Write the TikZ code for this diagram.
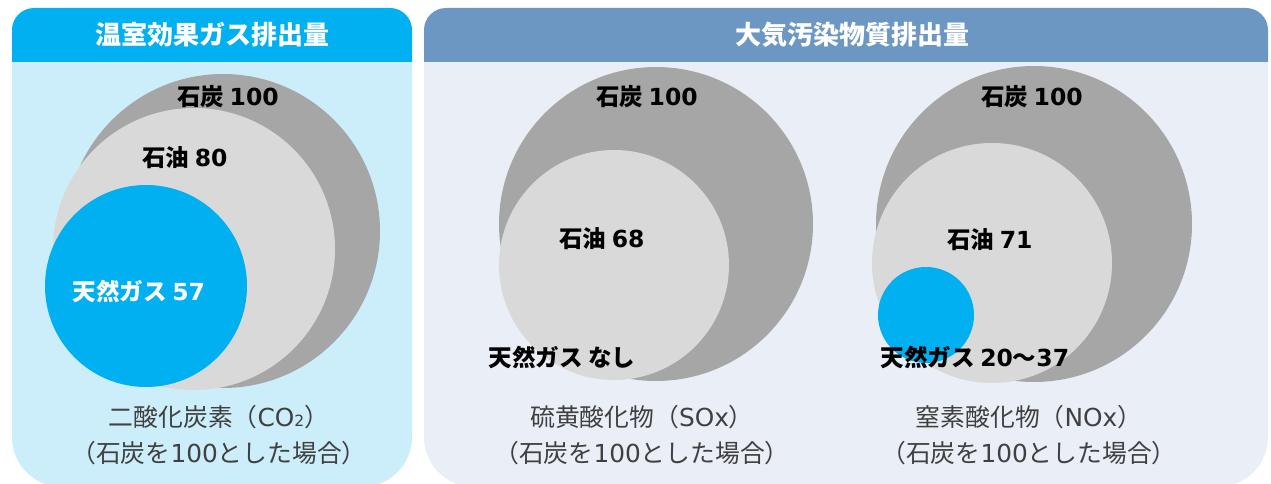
\documentclass[tikz,border=0pt]{standalone}
\usepackage{fontspec}
\setmainfont{Noto Sans CJK JP}
\newfontfamily\latfont{DejaVu Sans}
\usepackage{tikz}
\definecolor{ghgBlue}{HTML}{00B0F0}
\definecolor{ghgBody}{HTML}{CCEEFB}
\definecolor{airBlue}{HTML}{6C97C3}
\definecolor{airBody}{HTML}{EAEFF7}
\definecolor{coalGray}{HTML}{A6A6A6}
\definecolor{oilGray}{HTML}{D9D9D9}
\definecolor{capText}{HTML}{404040}
\def\hTop{8}
\def\hBot{62}
\def\pBot{487}
\def\rHead{22pt}
\def\rBody{50pt}
\def\lat#1{{\latfont #1}}
\def\smallnum#1{{\latfont\fontsize{15.5}{15.5}\selectfont #1}}
\tikzset{
  headtext/.style={font=\fontsize{26}{26}\selectfont\bfseries, text=white},
  fuellabel/.style={font=\fontsize{23.5}{23.5}\selectfont\bfseries, text=black},
  captext/.style={font=\fontsize{24.8}{36}\selectfont, text=capText, align=center},
}

\begin{document}
\begin{tikzpicture}[x=1pt,y=-1pt]
\useasboundingbox (0,0) rectangle (1271,484);

% Panels
\fill[ghgBody, rounded corners=\rBody] (12,\hTop) rectangle (412,\pBot);
\fill[airBody, rounded corners=\rBody] (424,\hTop) rectangle (1268,\pBot);
\begin{scope}
  \clip (0,0) rectangle (1271,\hBot);
  \fill[ghgBlue, rounded corners=\rHead] (12,\hTop) rectangle (412,100);
  \fill[airBlue, rounded corners=\rHead] (424,\hTop) rectangle (1268,100);
\end{scope}

% CO2
\fill[coalGray] (223,231) circle (157pt);
\fill[oilGray] (194,249) circle (141pt);
\fill[ghgBlue] (146,286) circle (101pt);

% SOx
\fill[coalGray] (656,224) circle (157pt);
\fill[oilGray] (614,265) circle (115pt);

% NOx
\fill[coalGray] (1034,224) circle (158pt);
\fill[oilGray] (992,263) circle (120pt);
\fill[ghgBlue] (926,315) circle (48pt);

% Titles
\node[headtext] (ghgTitle) at (212,35) {温室効果ガス排出量};
\node[headtext] (airTitle) at (852,35) {大気汚染物質排出量};

% Labels
\node[fuellabel] (coalCO) at (228,97) {石炭 \lat{100}};
\node[fuellabel] (oilCO) at (185,158) {石油 \lat{80}};
\node[fuellabel, text=white] (gasCO) at (139,291) {天然ガス \lat{57}};
\node[fuellabel] (coalSO) at (647,97) {石炭 \lat{100}};
\node[fuellabel] (oilSO) at (602,239) {石油 \lat{68}};
\node[fuellabel] (gasSO) at (562,357) {天然ガス なし};
\node[fuellabel] (coalNO) at (1032,97) {石炭 \lat{100}};
\node[fuellabel] (oilNO) at (990,240) {石油 \lat{71}};
\node[fuellabel] (gasNO) at (975,357) {天然ガス \lat{20}〜\lat{37}};

% Captions
\node[captext] (capCO) at (219,435) {二酸化炭素（\lat{CO}\smallnum{2}）\\（石炭を\lat{100}とした場合）};
\node[captext] (capSO) at (642,435) {硫黄酸化物（\lat{SOx}）\\（石炭を\lat{100}とした場合）};
\node[captext] (capNO) at (1029,435) {窒素酸化物（\lat{NOx}）\\（石炭を\lat{100}とした場合）};

\end{tikzpicture}
\end{document}
